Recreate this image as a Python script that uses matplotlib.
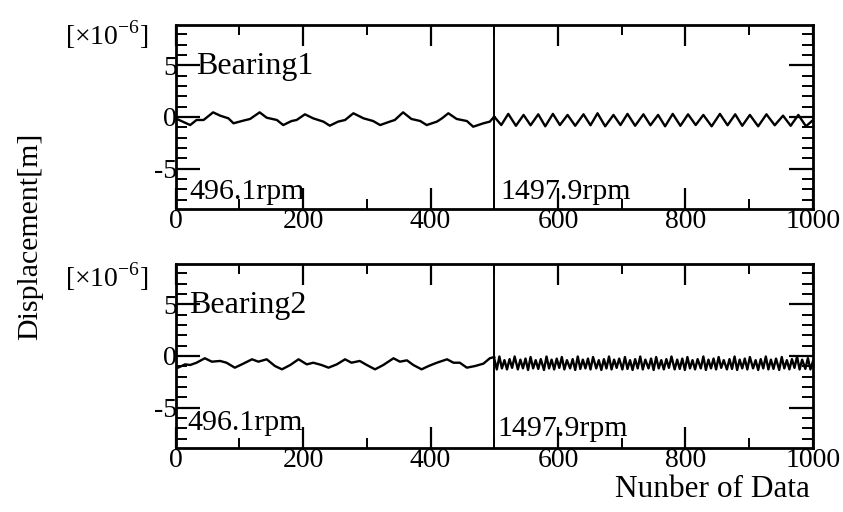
import matplotlib.pyplot as plt
from matplotlib.ticker import MultipleLocator

plt.rcParams['font.family'] = 'Liberation Serif'
plt.rcParams['mathtext.fontset'] = 'custom'
plt.rcParams['mathtext.rm'] = 'Liberation Serif'
plt.rcParams['axes.unicode_minus'] = False

# Bearing 1, 496.1 rpm part (data 0-500), vertices
b1_lo_x = [0, 23, 33, 44, 59, 70, 83, 91, 104, 117,
           132, 143, 159, 169, 182, 190, 203, 216, 232, 242,
           255, 266, 279, 295, 310, 321, 336, 344, 357, 370,
           384, 394, 410, 418, 428, 441, 457, 467, 483, 493,
           500]
b1_lo_y = [-0.13, -0.78, -0.29, -0.29, 0.45, 0.13, -0.13, -0.61, -0.39, -0.19,
           0.45, -0.07, -0.29, -0.78, -0.39, -0.29, 0.26, -0.13, -0.45, -0.84,
           -0.45, -0.29, 0.36, -0.13, -0.39, -0.78, -0.45, -0.29, 0.45, -0.19,
           -0.39, -0.78, -0.45, -0.13, 0.36, -0.19, -0.39, -0.94, -0.61, -0.45,
           0.03]

# Bearing 1, 1497.9 rpm part (data 500-1000)
b1_hi_x = [500, 511, 522, 534, 546, 557, 569, 580, 592, 603,
           615, 627, 640, 651, 662, 674, 687, 698, 709, 721,
           734, 745, 757, 768, 780, 792, 804, 816, 828, 841,
           854, 866, 878, 889, 901, 914, 927, 940, 953, 965,
           977, 989, 1000]
b1_hi_y = [0.03, -0.78, 0.3, -0.85, 0.2, -0.8, 0.26, -0.9, 0.3, -0.78,
           0.2, -0.85, 0.26, -0.8, 0.36, -0.9, 0.2, -0.78, 0.3, -0.85,
           0.26, -0.8, 0.2, -0.9, 0.3, -0.85, 0.26, -0.78, 0.2, -0.9,
           0.3, -0.8, 0.26, -0.85, 0.2, -0.9, 0.26, -0.8, 0.13, -0.85,
           0.2, -0.9, -0.3]

# Bearing 2, 496.1 rpm part
b2_lo_x = [0, 4, 15, 23, 33, 46, 57, 70, 80, 93,
           104, 120, 130, 143, 156, 167, 180, 193, 206, 216,
           229, 240, 253, 266, 276, 289, 300, 313, 326, 342,
           352, 363, 373, 386, 397, 410, 426, 436, 446, 457,
           470, 483, 493, 500]
b2_lo_y = [-0.9, -1.13, -0.81, -0.87, -0.65, -0.22, -0.55, -0.48, -0.65, -1.13,
           -0.81, -0.32, -0.55, -0.32, -0.97, -1.29, -0.87, -0.32, -0.81, -0.65,
           -0.87, -1.13, -0.81, -0.32, -0.65, -0.48, -0.87, -1.29, -0.87, -0.22,
           -0.55, -0.42, -0.87, -1.29, -0.97, -0.65, -0.32, -0.65, -0.65, -1.13,
           -0.97, -0.74, -0.22, -0.1]

# Bearing 2, 1497.9 rpm part (dense oscillation)
b2_hi_x = [500, 504, 508, 512, 516, 520, 524, 528, 532, 537,
           541, 545, 549, 553, 557, 561, 565, 569, 573, 578,
           582, 586, 590, 594, 598, 602, 606, 610, 614, 619,
           623, 627, 631, 635, 639, 643, 647, 651, 655, 660,
           664, 668, 672, 676, 680, 684, 688, 692, 696, 701,
           705, 709, 713, 717, 721, 725, 729, 733, 737, 742,
           746, 750, 754, 758, 762, 766, 770, 774, 778, 783,
           787, 791, 795, 799, 803, 807, 811, 815, 819, 824,
           828, 832, 836, 840, 844, 848, 852, 856, 860, 865,
           869, 873, 877, 881, 885, 889, 893, 897, 901, 906,
           910, 914, 918, 922, 926, 930, 934, 938, 942, 947,
           951, 955, 959, 963, 967, 971, 975, 979, 983, 988,
           992, 996, 1000]
b2_hi_y = [-0.25, -1.3, -0.05, -1.2, -0.4, -1.3, -0.3, -1.15, -0.05, -1.3,
           -0.35, -1.2, -0.25, -1.35, -0.1, -1.2, -0.4, -1.25, -0.3, -1.35,
           -0.05, -1.2, -0.35, -1.3, -0.25, -1.15, -0.1, -1.3, -0.4, -1.2,
           -0.3, -1.35, -0.05, -1.25, -0.35, -1.2, -0.25, -1.3, -0.1, -1.2,
           -0.4, -1.35, -0.3, -1.2, -0.05, -1.3, -0.35, -1.15, -0.25, -1.3,
           -0.1, -1.25, -0.4, -1.35, -0.3, -1.2, -0.05, -1.3, -0.35, -1.2,
           -0.25, -1.35, -0.1, -1.2, -0.4, -1.3, -0.3, -1.15, -0.05, -1.3,
           -0.35, -1.25, -0.25, -1.35, -0.1, -1.2, -0.4, -1.3, -0.3, -1.2,
           -0.05, -1.35, -0.35, -1.2, -0.25, -1.3, -0.1, -1.15, -0.4, -1.3,
           -0.3, -1.25, -0.05, -1.35, -0.35, -1.2, -0.25, -1.3, -0.1, -1.2,
           -0.4, -1.35, -0.3, -1.2, -0.05, -1.3, -0.35, -1.25, -0.25, -1.35,
           -0.1, -1.2, -0.4, -1.3, -0.3, -1.15, -0.05, -1.3, -0.35, -1.25,
           -0.2, -1.3, -0.5]

names = ['Bearing1', 'Bearing2']
speeds = ['496.1rpm', '1497.9rpm']
x_ticks = [0, 200, 400, 600, 800, 1000]
y_ticks = [-5, 0, 5]

fig = plt.figure(figsize=(8.43, 5.12), dpi=100)
ax1 = fig.add_axes([0.2082, 0.5918, 0.7562, 0.3594])
ax2 = fig.add_axes([0.2082, 0.125, 0.7562, 0.3594])

traces = [(ax1, b1_lo_x, b1_lo_y, b1_hi_x, b1_hi_y, -7.9, -7.9),
          (ax2, b2_lo_x, b2_lo_y, b2_hi_x, b2_hi_y, -7.2, -7.7)]

for i, (ax, lx, ly, hx, hy, ry_lo, ry_hi) in enumerate(traces):
    ax.plot(lx, ly, color='black', lw=1.7)
    ax.plot(hx, hy, color='black', lw=1.7)
    ax.axvline(500, color='black', lw=1.4)

    ax.set_xlim(0, 1000)
    ax.set_ylim(-8.9, 8.9)
    ax.set_xticks(x_ticks)
    ax.set_yticks(y_ticks)
    ax.xaxis.set_minor_locator(MultipleLocator(100))
    ax.yaxis.set_minor_locator(MultipleLocator(1))
    ax.tick_params(which='both', direction='in', top=True, right=True, colors='black')
    ax.tick_params(axis='x', which='major', length=15, width=1.6, labelsize=20, pad=0)
    ax.tick_params(axis='x', which='minor', length=7, width=1.4)
    ax.tick_params(axis='y', which='major', length=17, width=1.6, labelsize=20, pad=-1)
    ax.tick_params(axis='y', which='minor', length=8, width=1.4)
    for s in ax.spines.values():
        s.set_linewidth(2)

    ax.text(32 if i == 0 else 22, 4.2, names[i], fontsize=23, va='baseline')
    ax.text(21 if i == 0 else 18, ry_lo, speeds[0], fontsize=21.5, va='baseline')
    ax.text(510 if i == 0 else 505, ry_hi, speeds[1], fontsize=21.5, va='baseline')
    ax.text(-0.043, 0.945 if i == 0 else 0.93, r'[$\times$10$^{-6}$]', fontsize=20,
            ha='right', va='center', transform=ax.transAxes)

fig.text(30 / 843, 1 - 236 / 512, 'Displacement[m]', fontsize=21.5,
         rotation=90, ha='center', va='center')
fig.text(810 / 843, 1 - 497 / 512, 'Nunber of Data', fontsize=22.5,
         ha='right', va='baseline')

fig.savefig('out.png', dpi=100)
